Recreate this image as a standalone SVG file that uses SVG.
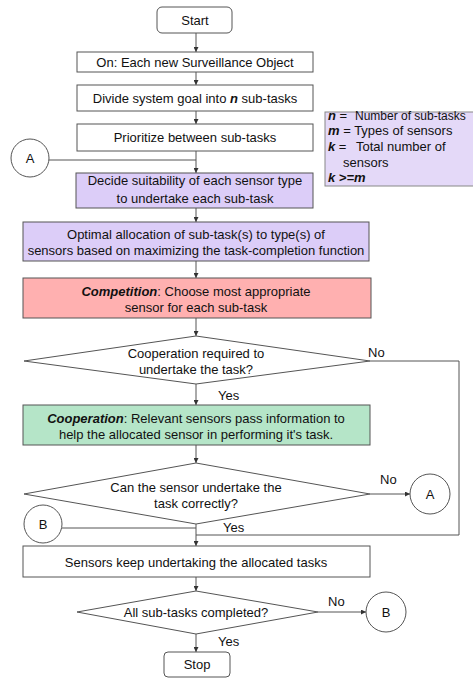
<svg xmlns="http://www.w3.org/2000/svg" width="473" height="679" viewBox="0 0 473 679">
<style>
text{font-family:"Liberation Sans",Arial,sans-serif;font-size:13px;fill:#111}
.c{text-anchor:middle}
.box{fill:#fff;stroke:#555;stroke-width:1}
.pur{fill:#dccdf8;stroke:#555;stroke-width:1}
.pink{fill:#ffb0b0;stroke:#555;stroke-width:1}
.green{fill:#b5e5c8;stroke:#555;stroke-width:1}
.ln{fill:none;stroke:#555;stroke-width:1}
.arr{fill:none;stroke:#555;stroke-width:1;marker-end:url(#ah)}
.bi{font-weight:bold;font-style:italic}
</style>
<defs>
<marker id="ah" viewBox="0 0 6 6" refX="6" refY="3" markerWidth="5" markerHeight="5" orient="auto" markerUnits="userSpaceOnUse">
<path d="M0,0 L6,3 L0,6 z" fill="#333"/>
</marker>
</defs>
<rect width="473" height="679" fill="#fff"/>
<g id="connectors">
<line class="arr" x1="196" y1="33" x2="196" y2="52"/>
<line class="arr" x1="196" y1="72" x2="196" y2="85"/>
<line class="arr" x1="196" y1="111" x2="196" y2="124"/>
<line class="arr" x1="196" y1="151" x2="196" y2="173"/>
<polyline class="ln" points="49,160 196,160"/>
<line class="arr" x1="196" y1="208" x2="196" y2="222"/>
<line class="arr" x1="196" y1="261" x2="196" y2="278"/>
<line class="arr" x1="196" y1="318" x2="196" y2="336"/>
<line class="arr" x1="196" y1="384" x2="196" y2="405"/>
<line class="arr" x1="196" y1="445" x2="196" y2="463"/>
<line class="arr" x1="370" y1="494" x2="410" y2="494"/>
<polyline class="ln" points="370,361 459,361 459,535 196,535"/>
<line class="arr" x1="196" y1="524" x2="196" y2="546"/>
<polyline class="ln" points="62,528 196,528"/>
<line class="arr" x1="196" y1="577" x2="196" y2="591"/>
<line class="arr" x1="318" y1="612" x2="366" y2="612"/>
<line class="arr" x1="196" y1="634" x2="196" y2="652"/>
<text x="368" y="357">No</text>
<text x="218" y="400">Yes</text>
<text x="380" y="484">No</text>
<text x="223" y="532">Yes</text>
<text x="328" y="606">No</text>
<text x="218" y="646">Yes</text>
</g>
<g id="start">
<rect class="box" x="157" y="7" width="75" height="26" rx="5"/>
<text class="c" x="195" y="25">Start</text>
</g>
<g id="on">
<rect class="box" x="77" y="52" width="236" height="20"/>
<text class="c" x="195" y="67">On: Each new Surveillance Object</text>
</g>
<g id="divide">
<rect class="box" x="77" y="85" width="236" height="26"/>
<text class="c" x="195" y="103">Divide system goal into <tspan class="bi">n</tspan> sub-tasks</text>
</g>
<g id="prioritize">
<rect class="box" x="77" y="124" width="236" height="27"/>
<text class="c" x="195" y="142">Prioritize between sub-tasks</text>
</g>
<g id="connA1">
<circle class="box" cx="30" cy="158" r="19"/>
<text class="c" x="30" y="163">A</text>
</g>
<g id="legend">
<rect x="325" y="112" width="160" height="74" fill="#e4d9f8" stroke="#888" stroke-width="1"/>
<text x="328" y="120"><tspan class="bi">n</tspan> =</text>
<text x="355" y="120" style="font-size:12px">Number of sub-tasks</text>
<text x="328" y="135"><tspan class="bi">m</tspan> = Types of sensors</text>
<text x="328" y="151"><tspan class="bi">k</tspan> =</text>
<text x="356" y="151">Total number of</text>
<text x="343" y="167">sensors</text>
<text x="328" y="182" class="bi">k &gt;=m</text>
</g>
<g id="decide">
<rect class="pur" x="76" y="173" width="237" height="35"/>
<text class="c" x="195" y="185">Decide suitability of each sensor type</text>
<text class="c" x="195" y="203">to undertake each sub-task</text>
</g>
<g id="optimal">
<rect class="pur" x="23" y="222" width="346" height="39"/>
<text class="c" x="196" y="239">Optimal allocation of sub-task(s) to type(s) of</text>
<text class="c" x="196" y="255">sensors based on maximizing the task-completion function</text>
</g>
<g id="competition">
<rect class="pink" x="23" y="278" width="348" height="40"/>
<text class="c" x="196" y="296"><tspan class="bi">Competition</tspan>: Choose most appropriate</text>
<text class="c" x="196" y="312">sensor for each sub-task</text>
</g>
<g id="decision1">
<polygon class="box" points="24,361 196,336 370,361 196,384"/>
<text class="c" x="196" y="358">Cooperation required to</text>
<text class="c" x="196" y="374">undertake the task?</text>
</g>
<g id="cooperation">
<rect class="green" x="23" y="405" width="347" height="40"/>
<text class="c" x="196" y="423"><tspan class="bi">Cooperation</tspan>: Relevant sensors pass information to</text>
<text class="c" x="196" y="439">help the allocated sensor in performing it's task.</text>
</g>
<g id="decision2">
<polygon class="box" points="24,494 196,463 370,494 196,524"/>
<text class="c" x="196" y="492">Can the sensor undertake the</text>
<text class="c" x="196" y="508">task correctly?</text>
</g>
<g id="connA2">
<circle class="box" cx="430" cy="494" r="20"/>
<text class="c" x="430" y="499">A</text>
</g>
<g id="connB1">
<circle class="box" cx="43" cy="524" r="19"/>
<text class="c" x="43" y="529">B</text>
</g>
<g id="sensors">
<rect class="box" x="23" y="546" width="347" height="31"/>
<text class="c" x="196" y="567">Sensors keep undertaking the allocated tasks</text>
</g>
<g id="decision3">
<polygon class="box" points="77,612 196,591 318,612 196,634"/>
<text class="c" x="196" y="617">All sub-tasks completed?</text>
</g>
<g id="connB2">
<circle class="box" cx="386" cy="612" r="20"/>
<text class="c" x="386" y="617">B</text>
</g>
<g id="stop">
<rect class="box" x="164" y="652" width="66" height="25" rx="4"/>
<text class="c" x="197" y="669">Stop</text>
</g>
</svg>
